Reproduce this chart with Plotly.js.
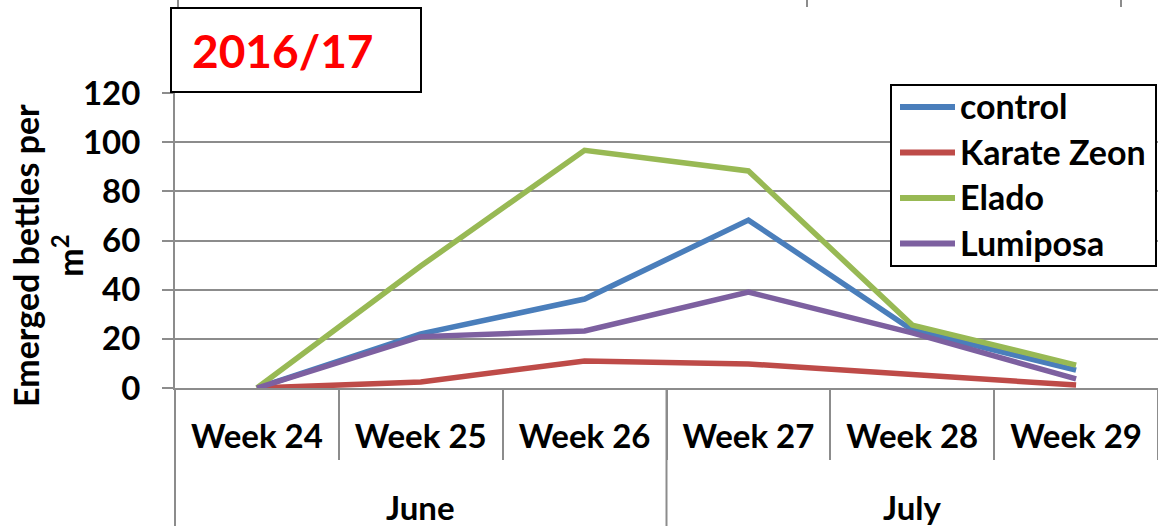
<!DOCTYPE html>
<html>
<head>
<meta charset="utf-8">
<script src="https://cdn.plot.ly/plotly-3.0.1.min.js"></script>
<style>html,body{margin:0;padding:0;background:#fff;}#chart{width:1158px;height:526px;}</style>
</head>
<body>
<div id="chart"></div>
<script>
const weeks = ['Week 24', 'Week 25', 'Week 26', 'Week 27', 'Week 28', 'Week 29'];
const monthOfWeek = ['June', 'June', 'June', 'July', 'July', 'July'];
const months = ['June', 'July'];
const seriesNames = ['control', 'Karate Zeon', 'Elado', 'Lumiposa'];
const control = [0, 22, 36.2, 68.3, 23.6, 7.3];
const karateZeon = [0, 2.4, 11, 9.8, 5.5, 1.2];
const elado = [0, 49.6, 96.7, 88.3, 25.6, 9.3];
const lumiposa = [0, 20.9, 23.2, 39, 22.4, 3.7];
const yTicks = [0, 20, 40, 60, 80, 100, 120];
const titleText = '2016/17';
const yTitleText = 'Emerged bettles per<br>m<sup>2</sup>';

const colors = ['#4A7EBB', '#BE4B48', '#98B954', '#7D60A0'];
const seriesValues = [control, karateZeon, elado, lumiposa];

const W = 1158, H = 526;
const M = {l: 175, r: 0, t: 93, b: 138};
const PW = W - M.l - M.r, PH = H - M.t - M.b;
const px = x => (x - M.l) / PW;
const py = y => (H - M.b - y) / PH;

const FONT = 'Lato, "Open Sans", sans-serif';
const GRID = '#8c8c8c';

const traces = seriesNames.map((name, i) => ({
  type: 'scatter', mode: 'lines', name: name,
  x: weeks, y: seriesValues[i],
  line: {color: colors[i], width: 5.5},
  cliponaxis: false, showlegend: false
}));

const n = weeks.length;
const shapes = [];
shapes.push({type: 'line', xref: 'paper', yref: 'paper', x0: 0, x1: 0, y0: 0, y1: py(H + 2), line: {color: GRID, width: 2}});
for (let i = 1; i < n; i++) {
  if (monthOfWeek[i] !== monthOfWeek[i - 1]) {
    shapes.push({type: 'line', xref: 'paper', yref: 'paper', x0: i / n, x1: i / n, y0: 0, y1: py(H + 2), line: {color: GRID, width: 2}});
  }
}
// title box
shapes.push({type: 'rect', xref: 'paper', yref: 'paper', x0: px(171), x1: px(421), y0: py(92), y1: py(8), line: {color: '#000', width: 2}, fillcolor: '#fff', layer: 'above'});
// remnants of the chart above
[178, 807, 1121].forEach(x => shapes.push({type: 'line', xref: 'paper', yref: 'paper', x0: px(x), x1: px(x), y0: py(7), y1: py(-2), line: {color: GRID, width: 2}}));

// legend box
const LG = {x0: 891, x1: 1156, y0: 85, y1: 266, row0: 107, rowGap: 45.5, lx0: 900, lx1: 955, tx: 958};
shapes.push({type: 'rect', xref: 'paper', yref: 'paper', x0: px(LG.x0), x1: px(LG.x1), y0: py(LG.y1), y1: py(LG.y0), line: {color: '#000', width: 2}, fillcolor: '#fff', layer: 'above'});

const annotations = [];
seriesNames.forEach((name, i) => {
  const ry = LG.row0 + i * LG.rowGap;
  shapes.push({type: 'line', xref: 'paper', yref: 'paper', x0: px(LG.lx0), x1: px(LG.lx1), y0: py(ry), y1: py(ry), line: {color: colors[i], width: 6}, layer: 'above'});
  annotations.push({xref: 'paper', yref: 'paper', x: px(LG.tx), y: py(ry - 1.5), text: '<b>' + name + '</b>', showarrow: false, font: {family: FONT, size: 34, color: '#000'}, xanchor: 'left', yanchor: 'middle'});
});

months.forEach(m => {
  const idx = monthOfWeek.map((v, i) => v === m ? i : -1).filter(i => i >= 0);
  const c = (idx[0] + idx[idx.length - 1] + 1) / 2 / n;
  annotations.push({xref: 'paper', yref: 'paper', x: c, y: py(507), text: '<b>' + m + '</b>', showarrow: false, font: {family: FONT, size: 33, color: '#000'}, xanchor: 'center', yanchor: 'middle'});
});
annotations.push({xref: 'paper', yref: 'paper', x: px(283), y: py(50.5), text: '<b>' + titleText + '</b>', showarrow: false, font: {family: FONT, size: 46, color: '#FF0000'}, xanchor: 'center', yanchor: 'middle'});
annotations.push({xref: 'paper', yref: 'paper', x: px(48), y: py(256), text: '<b>' + yTitleText + '</b>', textangle: -90, showarrow: false, font: {family: FONT, size: 34, color: '#000'}, xanchor: 'center', yanchor: 'middle'});

const layout = {
  width: W, height: H,
  margin: M,
  paper_bgcolor: '#fff', plot_bgcolor: '#fff',
  showlegend: false,
  xaxis: {
    type: 'category', range: [-0.5, n - 0.5],
    showline: true, linecolor: GRID, linewidth: 2,
    ticks: 'outside', tickson: 'boundaries', ticklen: 70, tickwidth: 2, tickcolor: GRID,
    showgrid: false, zeroline: false,
    tickfont: {family: FONT, size: 33, color: '#000', weight: 'bold'},
    ticklabelstandoff: 18,
    fixedrange: true
  },
  yaxis: {
    range: [0, 120], tickvals: yTicks, ticktext: yTicks.map(String),
    showline: true, linecolor: GRID, linewidth: 2,
    ticks: 'outside', ticklen: 11, tickwidth: 2, tickcolor: GRID,
    showgrid: true, gridcolor: GRID, gridwidth: 2, zeroline: false,
    tickfont: {family: FONT, size: 33, color: '#000', weight: 'bold'},
    ticklabelstandoff: 15,
    fixedrange: true
  },
  shapes: shapes,
  annotations: annotations
};

Plotly.newPlot('chart', traces, layout, {displayModeBar: false, staticPlot: true});
</script>
</body>
</html>
